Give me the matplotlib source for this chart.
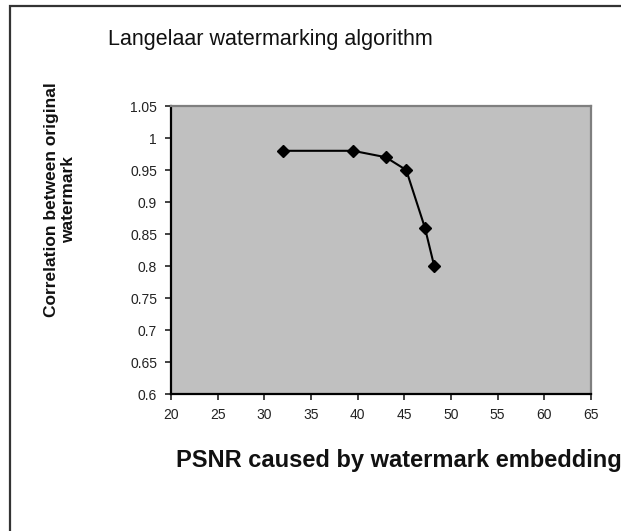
import matplotlib.pyplot as plt
from matplotlib.patches import Rectangle

plt.rcParams['font.family'] = ['Liberation Sans', 'DejaVu Sans']

psnr = [32, 39.5, 43, 45.2, 47.2, 48.2]
corr = [0.98, 0.98, 0.97, 0.95, 0.86, 0.80]
x_ticks = [20, 25, 30, 35, 40, 45, 50, 55, 60, 65]
y_ticks = [0.6, 0.65, 0.7, 0.75, 0.8, 0.85, 0.9, 0.95, 1, 1.05]
y_tick_labels = ["0.6", "0.65", "0.7", "0.75", "0.8", "0.85", "0.9", "0.95", "1", "1.05"]

W, H = 621, 531
fig = plt.figure(figsize=(W / 100, H / 100), dpi=100)

# outer frame (cut off at right and bottom)
fig.patches.append(Rectangle((10 / W, -0.1), 1.2, (H - 6) / H + 0.1, transform=fig.transFigure,
                             fill=False, edgecolor="#333333", linewidth=1.6))

ax = fig.add_axes([171 / W, (H - 394) / H, 420 / W, 288 / H])
ax.set_facecolor("#c0c0c0")
ax.plot(psnr, corr, color="black", linewidth=1.5, marker="D", markersize=6)

ax.set_xlim(20, 65)
ax.set_ylim(0.6, 1.05)
ax.set_xticks(x_ticks)
ax.set_yticks(y_ticks)
ax.set_yticklabels(y_tick_labels)
ax.tick_params(direction="out", length=4, width=1.2, labelsize=10, colors="#222222")
ax.tick_params(axis="y", pad=6)
ax.tick_params(axis="x", pad=6)

for s in ["left", "bottom"]:
    ax.spines[s].set_color("black")
    ax.spines[s].set_linewidth(1.6)
for s in ["top", "right"]:
    ax.spines[s].set_color("#7f7f7f")
    ax.spines[s].set_linewidth(1.6)

fig.text(108 / W, 1 - 45 / H, "Langelaar watermarking algorithm", fontsize=15.5,
         ha="left", va="baseline", color="#111111")
fig.text(176 / W, 1 - 467 / H, "PSNR caused by watermark embedding", fontsize=17,
         fontweight="bold", ha="left", va="baseline", color="#111111")
fig.text(60 / W, 1 - 200 / H, "Correlation between original\nwatermark", fontsize=12.5,
         fontweight="bold", rotation=90, ha="center", va="center",
         multialignment="center", color="#111111", linespacing=1.1)

fig.savefig("out.png", dpi=100)
